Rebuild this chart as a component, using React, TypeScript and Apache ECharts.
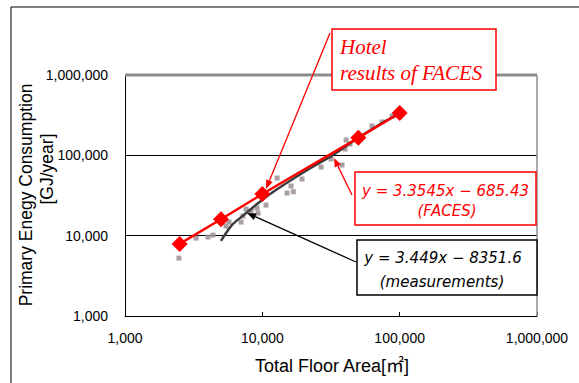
import React, { useEffect, useRef } from "react";
import * as echarts from "echarts";

// FACES simulation results (Hotel)
const facesArea = [2500, 5000, 10000, 50000, 100000];
const facesEnergy = [7900, 16000, 33000, 165000, 337000];

// Measured hotels (scatter)
const measArea = [2470, 3290, 4020, 4370, 5440, 5720, 7000, 7230, 7610, 8280, 9150, 9310, 10640, 12800, 15130, 16180, 16820, 19460, 26770, 31650, 38050, 40010, 40740, 43500, 62950, 74460, 88100];
const measEnergy = [5260, 9330, 9620, 10170, 13180, 14760, 14760, 17540, 21440, 20230, 22080, 19100, 24040, 52150, 33940, 41490, 35220, 50700, 71500, 89940, 75700, 119700, 155200, 138400, 231700, 260000, 308300];

const fitArea = [5000, 6000, 7300, 9600, 12700, 22000, 33000, 49000, 76000, 97000];
const fitEnergy = [8600, 13500, 18000, 26500, 37500, 68000, 102000, 162000, 258000, 322000];

const axisTicks = [1000, 10000, 100000, 1000000];

const fmt = (v: number) => Math.round(v).toLocaleString("en-US");

function arrow(x1: number, y1: number, x2: number, y2: number, color: string) {
  const dx = x2 - x1, dy = y2 - y1;
  const len = Math.sqrt(dx * dx + dy * dy);
  const ux = dx / len, uy = dy / len;
  const L = 9, W = 3.5;
  const bx = x2 - ux * L, by = y2 - uy * L;
  const px = -uy, py = ux;
  return [
    { type: "line", z: 20, shape: { x1, y1, x2: bx, y2: by }, style: { stroke: color, lineWidth: 1.3 } },
    {
      type: "polygon", z: 20,
      shape: { points: [[x2, y2], [bx + px * W, by + py * W], [bx - px * W, by - py * W]] },
      style: { fill: color },
    },
  ];
}

export default function App() {
  const ref = useRef<HTMLDivElement>(null);
  useEffect(() => {
    if (!ref.current) return;
    const chart = echarts.init(ref.current, null, { renderer: "svg" });
    const tickFont = { fontFamily: "Liberation Sans", fontSize: 14, color: "#000" };
    const eqFont = { fontFamily: "DejaVu Sans", fontSize: 15, fontStyle: "italic" };
    const serif = { fontFamily: "Liberation Serif", fontSize: 21, fontStyle: "italic" };
    chart.setOption({
      animation: false,
      backgroundColor: "#fff",
      grid: { left: 125, top: 75, width: 412, height: 241, outerBoundsMode: "none", containLabel: false },
      xAxis: {
        type: "log", logBase: 10, min: axisTicks[0], max: axisTicks[3],
        axisLine: { lineStyle: { color: "#000", width: 1 } },
        axisTick: { inside: true, length: 4, lineStyle: { color: "#000" } },
        axisLabel: { ...tickFont, margin: 15, formatter: (v: number) => fmt(v) },
        splitLine: { show: false },
      },
      yAxis: {
        type: "log", logBase: 10, min: axisTicks[0], max: axisTicks[3],
        axisLine: { show: true, lineStyle: { color: "#000", width: 1 } },
        axisTick: { show: true, inside: true, length: 4, lineStyle: { color: "#000" } },
        axisLabel: { ...tickFont, margin: 17, padding: [6, 0, 0, 0], formatter: (v: number) => fmt(v) },
        splitLine: { show: true, lineStyle: { color: "#000", width: 1 } },
      },
      series: [
        {
          type: "scatter", symbol: "rect", symbolSize: 5, z: 2,
          itemStyle: { color: "#a0959b", opacity: 0.9 },
          data: measArea.map((a, i) => [a, measEnergy[i]]),
        },
        {
          type: "line", smooth: 0.3, symbol: "none", z: 3,
          lineStyle: { color: "#3c3c3c", width: 2.5 },
          data: fitArea.map((a, i) => [a, fitEnergy[i]]),
        },
        {
          type: "line", symbol: "diamond", symbolSize: 16, z: 4,
          lineStyle: { color: "#ff0000", width: 2.5 },
          itemStyle: { color: "#ff0000" },
          data: facesArea.map((a, i) => [a, facesEnergy[i]]),
        },
      ],
      graphic: [
        { type: "rect", z: 0, shape: { x: 11, y: 7, width: 700, height: 500 }, style: { fill: "none", stroke: "#000", lineWidth: 1 } },
        { type: "line", z: 5, shape: { x1: 125, y1: 75, x2: 537, y2: 75 }, style: { stroke: "#8c8c8c", lineWidth: 3 } },
        { type: "line", z: 5, shape: { x1: 537, y1: 75, x2: 537, y2: 316 }, style: { stroke: "#8c8c8c", lineWidth: 1.5 } },
        {
          type: "text", z: 5, x: 332, y: 366,
          style: { text: "Total Floor Area[㎡]", fontFamily: "Liberation Sans, Noto Sans CJK JP", fontSize: 18, fill: "#000", align: "center", verticalAlign: "middle" },
        },
        {
          type: "text", z: 5, x: 26, y: 195, rotation: Math.PI / 2,
          style: { text: "Primary Enegy Consumption", fontFamily: "Liberation Sans", fontSize: 17.5, fill: "#000", align: "center", verticalAlign: "middle" },
        },
        {
          type: "text", z: 5, x: 47, y: 169, rotation: Math.PI / 2,
          style: { text: "[GJ/year]", fontFamily: "Liberation Sans", fontSize: 17.5, fill: "#000", align: "center", verticalAlign: "middle" },
        },
        // Hotel box
        { type: "rect", z: 10, shape: { x: 332, y: 29, width: 164, height: 61 }, style: { fill: "#fff", stroke: "#ff0000", lineWidth: 1.5 } },
        { type: "text", z: 11, x: 340, y: 47, style: { text: "Hotel", ...serif, fill: "#ff0000", align: "left", verticalAlign: "middle" } },
        { type: "text", z: 11, x: 340, y: 73, style: { text: "results of FACES", ...serif, fill: "#ff0000", align: "left", verticalAlign: "middle" } },
        ...arrow(330, 33, 266, 189, "#ff0000"),
        // FACES equation box
        { type: "rect", z: 10, shape: { x: 355, y: 172, width: 181, height: 53 }, style: { fill: "#fff", stroke: "#ff0000", lineWidth: 1.5 } },
        { type: "text", z: 11, x: 445.5, y: 191, style: { text: "y = 3.3545x − 685.43", ...eqFont, fill: "#ff0000", align: "center", verticalAlign: "middle" } },
        { type: "text", z: 11, x: 447, y: 211, style: { text: "(FACES)", ...eqFont, fill: "#ff0000", align: "center", verticalAlign: "middle" } },
        ...arrow(352, 195, 334, 158, "#ff0000"),
        // measurement equation box
        { type: "rect", z: 10, shape: { x: 357, y: 240, width: 180, height: 55 }, style: { fill: "#fff", stroke: "#000", lineWidth: 1.5 } },
        { type: "text", z: 11, x: 443, y: 258, style: { text: "y = 3.449x − 8351.6", ...eqFont, fill: "#000", align: "center", verticalAlign: "middle" } },
        { type: "text", z: 11, x: 442, y: 282, style: { text: "(measurements)", ...eqFont, fill: "#000", align: "center", verticalAlign: "middle" } },
        ...arrow(356, 262, 247, 213, "#000"),
      ],
    });
    return () => chart.dispose();
  }, []);
  return <div ref={ref} style={{ position: "fixed", left: 0, top: 0, width: 579, height: 383 }} />;
}
